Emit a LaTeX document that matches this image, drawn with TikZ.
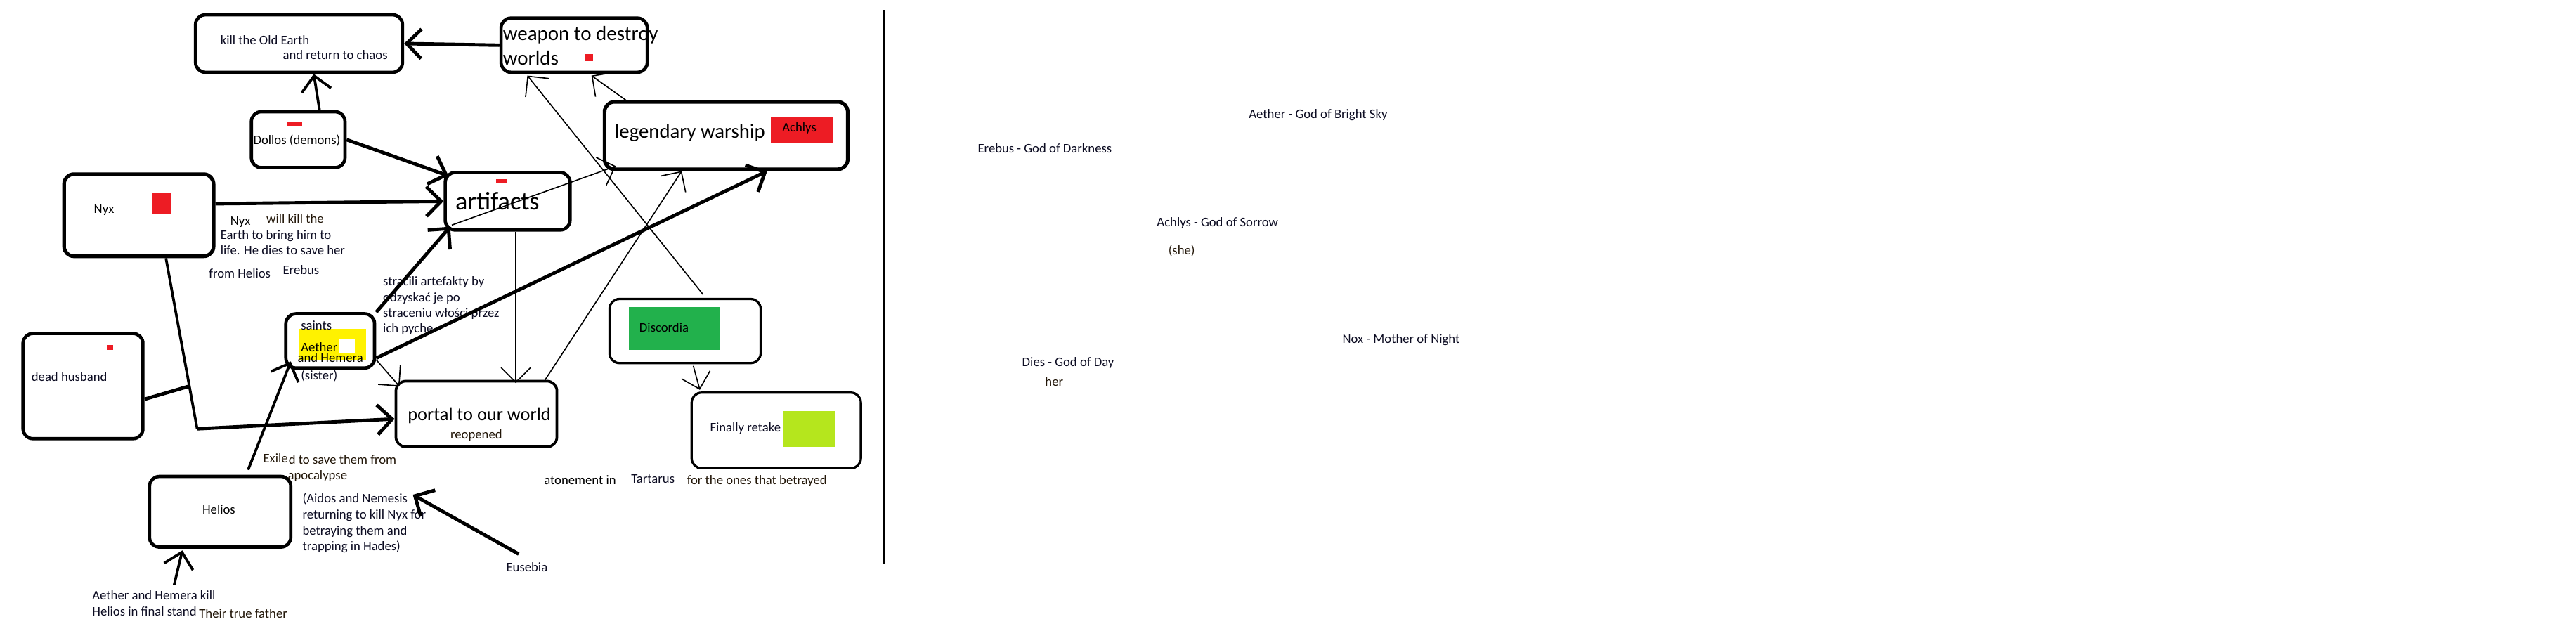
\documentclass[tikz,border=0pt]{standalone}
\usepackage{fontspec}
\setmainfont{Carlito}
\usetikzlibrary{arrows.meta,calc}
\definecolor{mspred}{RGB}{237,28,36}
\definecolor{mspyellow}{RGB}{255,242,0}
\definecolor{mspgreen}{RGB}{34,177,76}
\definecolor{msplime}{RGB}{181,230,29}
\definecolor{inknavy}{RGB}{12,12,34}
\definecolor{inkbrown}{RGB}{34,22,8}
\begin{document}
\begin{tikzpicture}[x=1pt,y=-1pt,
  box/.style={draw=black, rounded corners=6pt, inner sep=0pt, line width=2pt},
  t/.style={anchor=base west, inner sep=0pt, font=\fontsize{8}{9.6}\selectfont, text=inknavy},
  tb/.style={t, text=inkbrown},
  tk/.style={t, text=black},
  thickc/.style={line width=2.1pt},
  midc/.style={line width=1.6pt},
  thinc/.style={line width=0.7pt},
  barb/.style={-{Straight Barb[length=9pt,width=18pt]}}]
\useasboundingbox (0,0) rectangle (1568,384);
\fill[white] (0,0) rectangle (1568,384);

% ---------- boxes ----------
\node[box, minimum width=126pt, minimum height=35pt] (kill) at (182,26.5) {};
\node[box, minimum width=89pt, minimum height=33pt] (weapon) at (349.5,27.5) {};
\node[box, minimum width=57pt, minimum height=34pt] (dollos) at (181.5,85) {};
\node[box, minimum width=76pt, minimum height=35pt] (artifacts) at (309,122.5) {};
\node[box, minimum width=148pt, minimum height=41pt, line width=2.2pt] (warship) at (442,82.5) {};
\node[box, minimum width=91pt, minimum height=50pt, line width=2.2pt] (nyx) at (84.5,131) {};
\node[box, minimum width=73pt, minimum height=64pt] (dead) at (50.5,235) {};
\node[box, minimum width=54pt, minimum height=33pt] (saints) at (201,207.5) {};
\node[box, minimum width=98pt, minimum height=40pt, line width=1.6pt] (portal) at (290,252) {};
\node[box, minimum width=92pt, minimum height=39pt, line width=1.4pt] (discordia) at (417,201.5) {};
\node[box, minimum width=103pt, minimum height=46pt, line width=1.4pt] (finally) at (472.5,262) {};
\node[box, minimum width=86pt, minimum height=43pt] (helios) at (134,311.5) {};

% ---------- colour patches ----------
\fill[mspred] (356,33) rectangle (361,37);
\fill[mspred] (175,74) rectangle (184,76.5);
\fill[mspred] (302,109) rectangle (309,111.5);
\fill[mspred] (469,71) rectangle (507,87);
\fill[mspred] (93,117) rectangle (104,130);
\fill[mspred] (65,210) rectangle (69,213);
\fill[mspyellow] (182,200) rectangle (223,219);
\fill[white] (206,206) rectangle (216,215);
\fill[mspgreen] (383,187) rectangle (438,213);
\fill[msplime] (477,250) rectangle (508,272);

% ---------- texts ----------
\node[t] (killa) at (134,27) {kill the Old Earth};
\node[t] (killb) at (172,36) {and return to chaos};
\node[tk, font=\fontsize{12.4}{14}\selectfont] (weapa) at (306,24.5) {weapon to destroy};
\node[tk, font=\fontsize{12.4}{14}\selectfont] (weapb) at (306,39.5) {worlds};
\node[tk] (dollost) at (154,88) {Dollos (demons)};
\node[tk, font=\fontsize{15.5}{18}\selectfont] (artt) at (277,127.5) {artifacts};
\node[tk, font=\fontsize{12.3}{14}\selectfont] (wart) at (374,84) {legendary warship};
\node[tk] (achlys) at (476,80) {Achlys};
\node[tk] (nyxt) at (57,130) {Nyx};
\node[tk] (nyx2) at (140,137) {Nyx};
\node[tb] (willkill) at (162,136) {will kill the};
\node[t] (earthb) at (134,145.5) {Earth to bring him to};
\node[t] (lifehe) at (134,155) {life. He dies to save her};
\node[t] (fromhel) at (127,169) {from Helios};
\node[t] (erebus) at (172,167) {Erebus};
\node[t] (deadt) at (19,232) {dead husband};
\node[t] (saintst) at (183,201) {saints};
\node[tk] (aethert) at (183,214) {Aether};
\node[tk] (hemerat) at (181,220.5) {and Hemera};
\node[t] (sistert) at (183,231) {(sister)};
\node[t] (pl1) at (233,174) {stracili artefakty by};
\node[t] (pl2) at (233,183.5) {odzyskać je po};
\node[t] (pl3) at (233,193) {straceniu włości przez};
\node[t] (pl4) at (233,202.5) {ich pychę};
\node[tk, font=\fontsize{11.3}{13}\selectfont] (portt) at (248,256) {portal to our world};
\node[tb] (reop) at (274,267) {reopened};
\node[tk] (disct) at (389,202) {Discordia};
\node[t] (finallyt) at (432,263) {Finally retake};
\node[tk] (aton) at (331,295) {atonement in};
\node[t] (tart) at (384,294) {Tartarus};
\node[tb] (forones) at (418,295) {for the ones that betrayed};
\node[tk] (heliost) at (123,313) {Helios};
\node[tb] (exile) at (160,281.5) {Exile};
\node[tb] (tosave) at (175.5,282.5) {d to save them from};
\node[tb] (apoc) at (175,292) {apocalypse};
\node[t] (aidos1) at (184,306) {(Aidos and Nemesis};
\node[t] (aidos2) at (184,316) {returning to kill Nyx for};
\node[t] (aidos3) at (184,325.5) {betraying them and};
\node[t] (aidos4) at (184,335) {trapping in Hades)};
\node[t] (eusebia) at (308,348) {Eusebia};
\node[t] (aeh1) at (56,365) {Aether and Hemera kill};
\node[t] (aeh2) at (56,375) {Helios in final stand};
\node[tb] (truef) at (121,376) {Their true father};

\node[t] (r1) at (760,72) {Aether - God of Bright Sky};
\node[t] (r2) at (595,93) {Erebus - God of Darkness};
\node[t] (r3) at (704,138) {Achlys - God of Sorrow};
\node[tb] (r4) at (711,155) {(she)};
\node[t] (r5) at (817,209) {Nox - Mother of Night};
\node[t] (r6) at (622,223) {Dies - God of Day};
\node[tb] (r7) at (636,235) {her};

% divider
\coordinate (divtop) at (538,6);
\coordinate (divbot) at (538,343);
\draw[line width=0.9pt] (divtop) -- (divbot);

% ---------- connectors ----------
\draw[thickc, barb] (weapon.west) -- (kill.east);
\draw[midc, barb] ([xshift=13pt]dollos.north) -- ([xshift=9pt]kill.south);
\draw[thickc, barb] (dollos.east) -- ([xshift=3pt,yshift=-3pt]artifacts.north west);
\draw[thickc, barb] ([yshift=7pt]nyx.east) -- (artifacts.west);

\coordinate (nyxfoot) at ([xshift=16.5pt]nyx.south);
\coordinate (nyxbend) at (120,261);
\coordinate (deadjoin) at ($(nyxfoot)!0.75!(nyxbend)$);
\draw[midc, line join=round] (nyxfoot) -- (nyxbend);
\draw[thickc, barb] (nyxbend) -- ([yshift=-3pt]portal.west);
\draw[thickc] ([yshift=-8pt]dead.east) -- (deadjoin);

\draw[thickc, barb] (saints.north east) -- ([xshift=4pt,yshift=3pt]artifacts.south west);
\draw[thickc, barb] ([yshift=-10.5pt]saints.east) -- ([xshift=25pt]warship.south);
\draw[thinc, barb] ([yshift=-11.5pt]saints.east) -- ([xshift=3pt,yshift=-4pt]portal.north west);
\draw[midc, barb] ([xshift=17pt,yshift=3pt]helios.north) -- ([xshift=4pt,yshift=5pt]saints.south west);

\draw[thinc, barb] ([xshift=5pt]artifacts.south) -- ([xshift=24pt,yshift=-2pt]portal.north);
\draw[thinc, barb] ([xshift=-8pt]portal.north east) -- ([xshift=-27pt]warship.south);
\draw[thinc, barb] ([xshift=11pt,yshift=2pt]discordia.north) -- ([xshift=-28.5pt,yshift=-1pt]weapon.south);
\draw[thinc, barb] ([xshift=5pt,yshift=4pt]artifacts.south west) -- ([xshift=8pt,yshift=3pt]warship.south west);
\draw[thinc, barb] ([xshift=14pt]warship.north west) -- ([xshift=10.5pt,yshift=-1pt]weapon.south);
\draw[thinc, barb] ([xshift=5pt,yshift=-1pt]discordia.south) -- ([xshift=-46.5pt,yshift=1pt]finally.north);

\coordinate (killstart) at (106,356);
\draw[midc, barb] (killstart) -- ([xshift=-23pt,yshift=-1pt]helios.south);
\draw[thickc, barb] ([xshift=-5pt,yshift=5pt]eusebia.north) -- ([xshift=3pt,yshift=2.5pt]aidos1.east);
\end{tikzpicture}
\end{document}
